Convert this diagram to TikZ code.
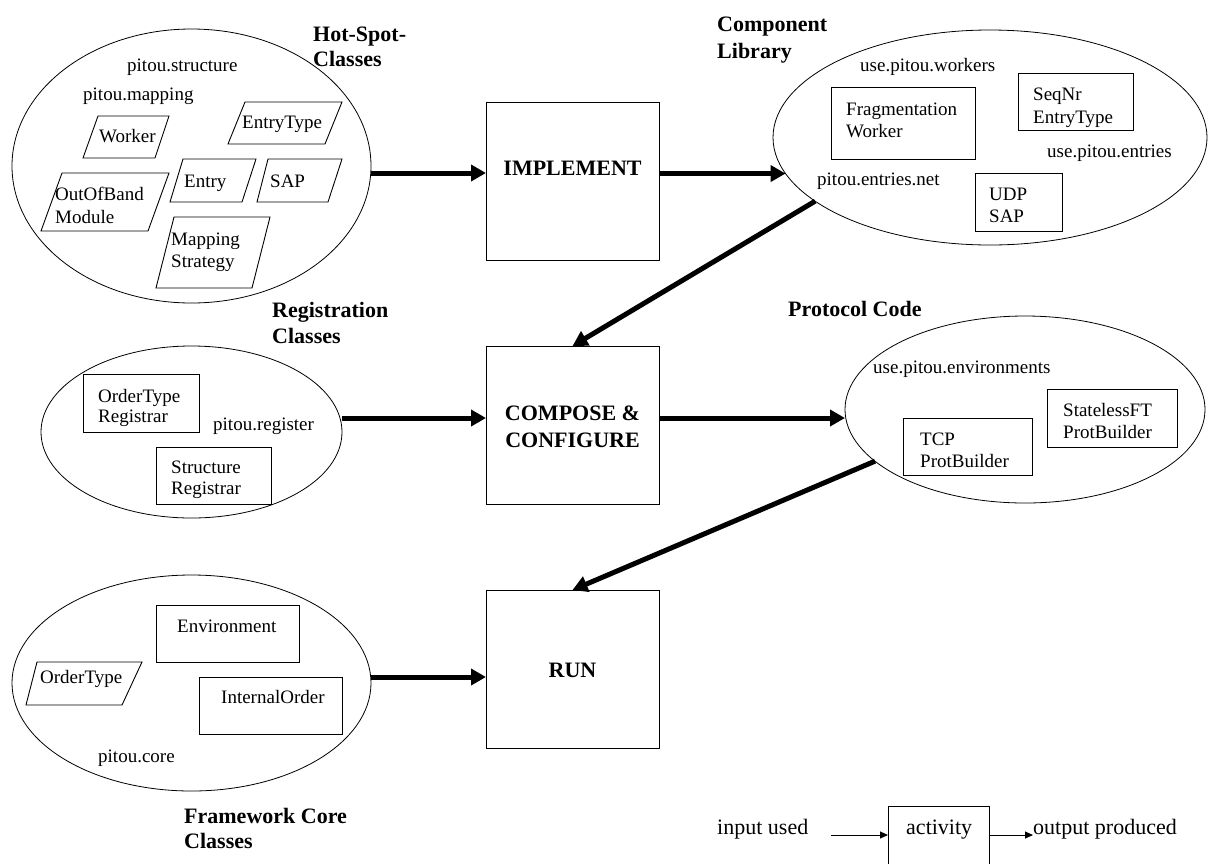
\documentclass[tikz,border=0pt]{standalone}
\usepackage{fontspec}
\setmainfont{Liberation Serif}
\usetikzlibrary{arrows.meta,shapes.geometric}

\begin{document}
\begin{tikzpicture}[x=1pt,y=-1pt,
  txt/.style={inner sep=0pt, anchor=base west, font=\fontsize{19}{22}\selectfont},
  heading/.style={inner sep=0pt, anchor=base west, font=\fontsize{22}{26}\selectfont\bfseries},
  legtxt/.style={inner sep=0pt, anchor=base west, font=\fontsize{22}{26}\selectfont},
  pkg/.style={draw, ellipse, inner sep=0pt, outer sep=0pt, line width=0.8pt},
  cls/.style={draw, rectangle, inner sep=0pt, outer sep=0pt, line width=1pt},
  hot/.style={draw, line width=0.9pt, line join=miter},
  actbox/.style={draw, rectangle, inner sep=0pt, outer sep=0pt, line width=1pt,
                 minimum width=173pt, minimum height=158pt},
  acttxt/.style={inner sep=0pt, anchor=base, font=\fontsize{22}{26}\selectfont\bfseries},
  flow/.style={line width=5pt, -{Triangle[length=15pt,width=16pt]}},
  legflow/.style={line width=1pt, -{Triangle[length=8pt,width=7pt]}},
]
\useasboundingbox[fill=white] (0,0) rectangle (1209,863);

% ---------- packages (ellipses) ----------
\node[pkg, minimum width=359pt, minimum height=274pt] (hs)    at (191.5,166) {};
\node[pkg, minimum width=434pt, minimum height=215pt] (lib)   at (990,137.5) {};
\node[pkg, minimum width=301pt, minimum height=172pt] (reg)   at (191.5,432) {};
\node[pkg, minimum width=360pt, minimum height=187pt] (proto) at (1025,409.5) {};
\node[pkg, minimum width=359pt, minimum height=216pt] (core)  at (191.5,683) {};

% ---------- activities ----------
\node[actbox] (impl) at (572.5,181) {};
\node[actbox] (comp) at (572.5,425) {};
\node[actbox] (run)  at (572.5,669) {};
\node[acttxt] (implT)  at (572.5,175) {IMPLEMENT};
\node[acttxt] (compTa) at (572.5,420) {COMPOSE \&};
\node[acttxt] (compTb) at (572.5,447) {CONFIGURE};
\node[acttxt] (runT)   at (572.5,677) {RUN};

% ---------- headings ----------
\node[heading] (hsA)   at (313,41)  {Hot-Spot-};
\node[heading] (hsB)   at (313,66)  {Classes};
\node[heading] (libA)  at (717,31)  {Component};
\node[heading] (libB)  at (717,58)  {Library};
\node[heading] (regA)  at (272,317) {Registration};
\node[heading] (regB)  at (272,343) {Classes};
\node[heading] (proA)  at (788,316) {Protocol Code};
\node[heading] (coreA) at (184,823) {Framework Core};
\node[heading] (coreB) at (184,848) {Classes};

% ---------- hot-spot classes ----------
\node[txt] (pStruct) at (127,71)  {pitou.structure};
\node[txt] (pMap)    at (83,100)  {pitou.mapping};
\draw[hot] (98,116) -- (169,116) -- (155,158) -- (83,158) -- cycle;
\node[txt] (wk) at (99,142) {Worker};
\draw[hot] (245,102) -- (342,102) -- (325,144) -- (228,144) -- cycle;
\node[txt] (et) at (242,128) {EntryType};
\draw[hot] (183,159) -- (256,159) -- (242,202) -- (170,202) -- cycle;
\node[txt] (en) at (184,187) {Entry};
\draw[hot] (268,159) -- (342,159) -- (328,202) -- (257,202) -- cycle;
\node[txt] (sap) at (270,187) {SAP};
\draw[hot] (62,173) -- (169,173) -- (148,231) -- (41,231) -- cycle;
\node[txt] (oobA) at (55,200) {OutOfBand};
\node[txt] (oobB) at (55,223) {Module};
\draw[hot] (174,217) -- (270,217) -- (252,288) -- (156,288) -- cycle;
\node[txt] (msA) at (171,245) {Mapping};
\node[txt] (msB) at (171,267) {Strategy};

% ---------- component library ----------
\node[txt] (uWork) at (860,71) {use.pitou.workers};
\node[cls, minimum width=144pt, minimum height=72pt] (frag) at (903,123) {};
\node[txt] (fragA) at (846,115) {Fragmentation};
\node[txt] (fragB) at (846,137) {Worker};
\node[cls, minimum width=115pt, minimum height=57pt] (seq) at (1075.5,101.5) {};
\node[txt] (seqA) at (1033,100) {SeqNr};
\node[txt] (seqB) at (1033,123) {EntryType};
\node[txt] (uEnt) at (1047,157) {use.pitou.entries};
\node[txt] (pNet) at (817,185) {pitou.entries.net};
\node[cls, minimum width=87pt, minimum height=58pt] (udp) at (1018.5,202) {};
\node[txt] (udpA) at (989,200) {UDP};
\node[txt] (udpB) at (989,222) {SAP};

% ---------- registration classes ----------
\node[cls, minimum width=116pt, minimum height=58pt] (otr) at (141,403) {};
\node[txt] (otrA) at (98,402) {OrderType};
\node[txt] (otrB) at (98,422) {Registrar};
\node[txt] (pReg) at (213,430) {pitou.register};
\node[cls, minimum width=115pt, minimum height=57pt] (sr) at (213.5,475.5) {};
\node[txt] (srA) at (171,473) {Structure};
\node[txt] (srB) at (171,494) {Registrar};

% ---------- protocol code ----------
\node[txt] (uEnv) at (873,373) {use.pitou.environments};
\node[cls, minimum width=130pt, minimum height=58pt] (sft) at (1112,418) {};
\node[txt] (sftA) at (1063,416) {StatelessFT};
\node[txt] (sftB) at (1063,438) {ProtBuilder};
\node[cls, minimum width=129pt, minimum height=57pt] (tcp) at (967.5,446.5) {};
\node[txt] (tcpA) at (920,445) {TCP};
\node[txt] (tcpB) at (920,467) {ProtBuilder};

% ---------- framework core ----------
\node[cls, minimum width=143pt, minimum height=57pt] (env) at (227.5,633.5) {};
\node[txt] (envT) at (177,632) {Environment};
\draw[hot] (37,662) -- (142,662) -- (122,705) -- (26,705) -- cycle;
\node[txt] (ot) at (40,683) {OrderType};
\node[cls, minimum width=143pt, minimum height=57pt] (io) at (270.5,705.5) {};
\node[txt] (ioT) at (221,703) {InternalOrder};
\node[txt] (pCore) at (98,762) {pitou.core};

% ---------- flows ----------
\coordinate (y1) at (0,173);
\coordinate (y2) at (0,418);
\coordinate (y3) at (0,677);
\draw[flow] (hs.east |- y1) -- (impl.west |- y1);
\draw[flow] (impl.east |- lib.190) -- (lib.190);
\draw[flow] (lib.200) -- (comp.north);
\draw[flow] (reg.east |- y2) -- (comp.west |- y2);
\draw[flow] (comp.east |- y2) -- (proto.west |- y2);
\draw[flow] (proto.199) -- (run.north);
\draw[flow] (core.east |- y3) -- (run.west |- y3);

% ---------- legend ----------
\node[legtxt] (lIn) at (717,834) {input used};
\node[cls, minimum width=101pt, minimum height=74pt] (lAct) at (938.5,843) {};
\node[legtxt] (lActT) at (906,834) {activity};
\node[legtxt] (lOut) at (1033,834) {output produced};
\coordinate (lStart) at (831,835);
\draw[legflow] (lStart) -- (lAct.west |- lStart);
\draw[legflow] (lAct.east |- lStart) -- (lOut.west |- lStart);
\end{tikzpicture}
\end{document}
